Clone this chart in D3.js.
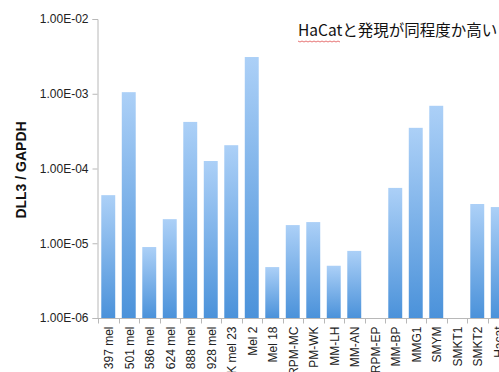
<!DOCTYPE html>
<html>
<head>
<meta charset="utf-8">
<script src="https://cdn.jsdelivr.net/npm/d3@7"></script>
<style>
  body { margin: 0; background: #fff; overflow: hidden; }
</style>
</head>
<body>
<div id="chart"></div>
<script>
// cell lines and DLL3 / GAPDH ratio (null = no bar)
const cellLines = ["397 mel", "501 mel", "586 mel", "624 mel", "888 mel", "928 mel", "SK mel 23",
    "Mel 2", "Mel 18", "RPM-MC", "PM-WK", "MM-LH", "MM-AN", "RPM-EP", "MM-BP", "MMG1",
    "SMYM", "SMKT1", "SMKT2", "Hacat"];
const ratios = [4.4e-5, 1.05e-3, 8.9e-6, 2.1e-5, 4.2e-4, 1.26e-4, 2.05e-4,
    3.1e-3, 4.8e-6, 1.75e-5, 1.92e-5, 5.0e-6, 7.9e-6, null, 5.5e-5, 3.5e-4,
    6.9e-4, null, 3.35e-5, 3.05e-5];
const yTicks = [1e-6, 1e-5, 1e-4, 1e-3, 1e-2];
const yTickLabels = ["1.00E-06", "1.00E-05", "1.00E-04", "1.00E-03", "1.00E-02"];
const note = "HaCatと発現が同程度か高い";

const width = 499, height = 372;
const axisColor = "#b8b8b8";
const labelFont = "'Liberation Sans', Arial, sans-serif";

const svg = d3.select("#chart").append("svg")
    .attr("width", width)
    .attr("height", height);

// vertical gradient per bar: light on top, darker at the base
const grad = svg.append("defs").append("linearGradient")
    .attr("id", "barFill")
    .attr("x1", 0).attr("y1", 0).attr("x2", 0).attr("y2", 1);
grad.append("stop").attr("offset", "0%").attr("stop-color", "#acd0f7");
grad.append("stop").attr("offset", "100%").attr("stop-color", "#4b92da");

const x = d3.scaleBand()
    .domain(cellLines)
    .range([98, 508])
    .paddingInner(0.32)
    .paddingOuter(0.16);

const y = d3.scaleLog()
    .domain([1e-6, 1e-2])
    .range([318, 19]);

// bars
const data = cellLines.map((name, i) => ({ name, value: ratios[i] }))
    .filter(d => d.value !== null);

svg.append("g").selectAll("rect")
    .data(data)
    .enter()
    .append("rect")
    .attr("x", d => x(d.name))
    .attr("width", x.bandwidth())
    .attr("y", d => y(d.value))
    .attr("height", d => y(1e-6) - y(d.value))
    .attr("fill", "url(#barFill)");

// y axis
const yAxis = svg.append("g")
    .attr("transform", "translate(97.5,0)")
    .call(d3.axisLeft(y)
        .tickValues(yTicks)
        .tickFormat((d, i) => yTickLabels[i])
        .tickSize(5)
        .tickPadding(4));
yAxis.select(".domain").attr("stroke", axisColor);
yAxis.selectAll(".tick line").attr("stroke", axisColor);
yAxis.selectAll(".tick text")
    .attr("fill", "#222")
    .style("font-family", labelFont)
    .style("font-size", "12px");

// x axis: tick marks on category boundaries
const xAxisG = svg.append("g").attr("transform", "translate(0,318.5)");
xAxisG.append("line")
    .attr("x1", 97.5).attr("x2", 508)
    .attr("stroke", axisColor);
const step = x.step();
xAxisG.selectAll(".bound")
    .data(d3.range(cellLines.length + 1))
    .enter()
    .append("line")
    .attr("x1", i => Math.round(x.range()[0] + i * step) + 0.5)
    .attr("x2", i => Math.round(x.range()[0] + i * step) + 0.5)
    .attr("y1", 0).attr("y2", 5)
    .attr("stroke", axisColor);

xAxisG.selectAll(".lbl")
    .data(cellLines)
    .enter()
    .append("text")
    .attr("transform", d => `translate(${x(d) + x.bandwidth() / 2 + 5},8) rotate(-90)`)
    .attr("text-anchor", "end")
    .attr("fill", "#222")
    .style("font-family", labelFont)
    .style("font-size", "12px")
    .text(d => d);

// y axis title
svg.append("text")
    .attr("transform", "translate(26,170) rotate(-90)")
    .attr("text-anchor", "middle")
    .attr("fill", "#111")
    .style("font-family", labelFont)
    .style("font-size", "14px")
    .style("font-weight", "bold")
    .text("DLL3 / GAPDH");

// annotation
svg.append("text")
    .attr("x", 298)
    .attr("y", 36)
    .attr("fill", "#111")
    .style("font-family", "'Noto Sans CJK JP', sans-serif")
    .style("font-size", "15.5px")
    .text(note);

// spell-check squiggle under "HaCat"
const squiggle = d3.range(0, 44, 2).map((dx, i) => [298 + dx, 41 + (i % 2 ? 1 : 0)]);
svg.append("path")
    .attr("d", d3.line()(squiggle))
    .attr("fill", "none")
    .attr("stroke", "#e05050")
    .attr("stroke-width", 0.8);
</script>
</body>
</html>
